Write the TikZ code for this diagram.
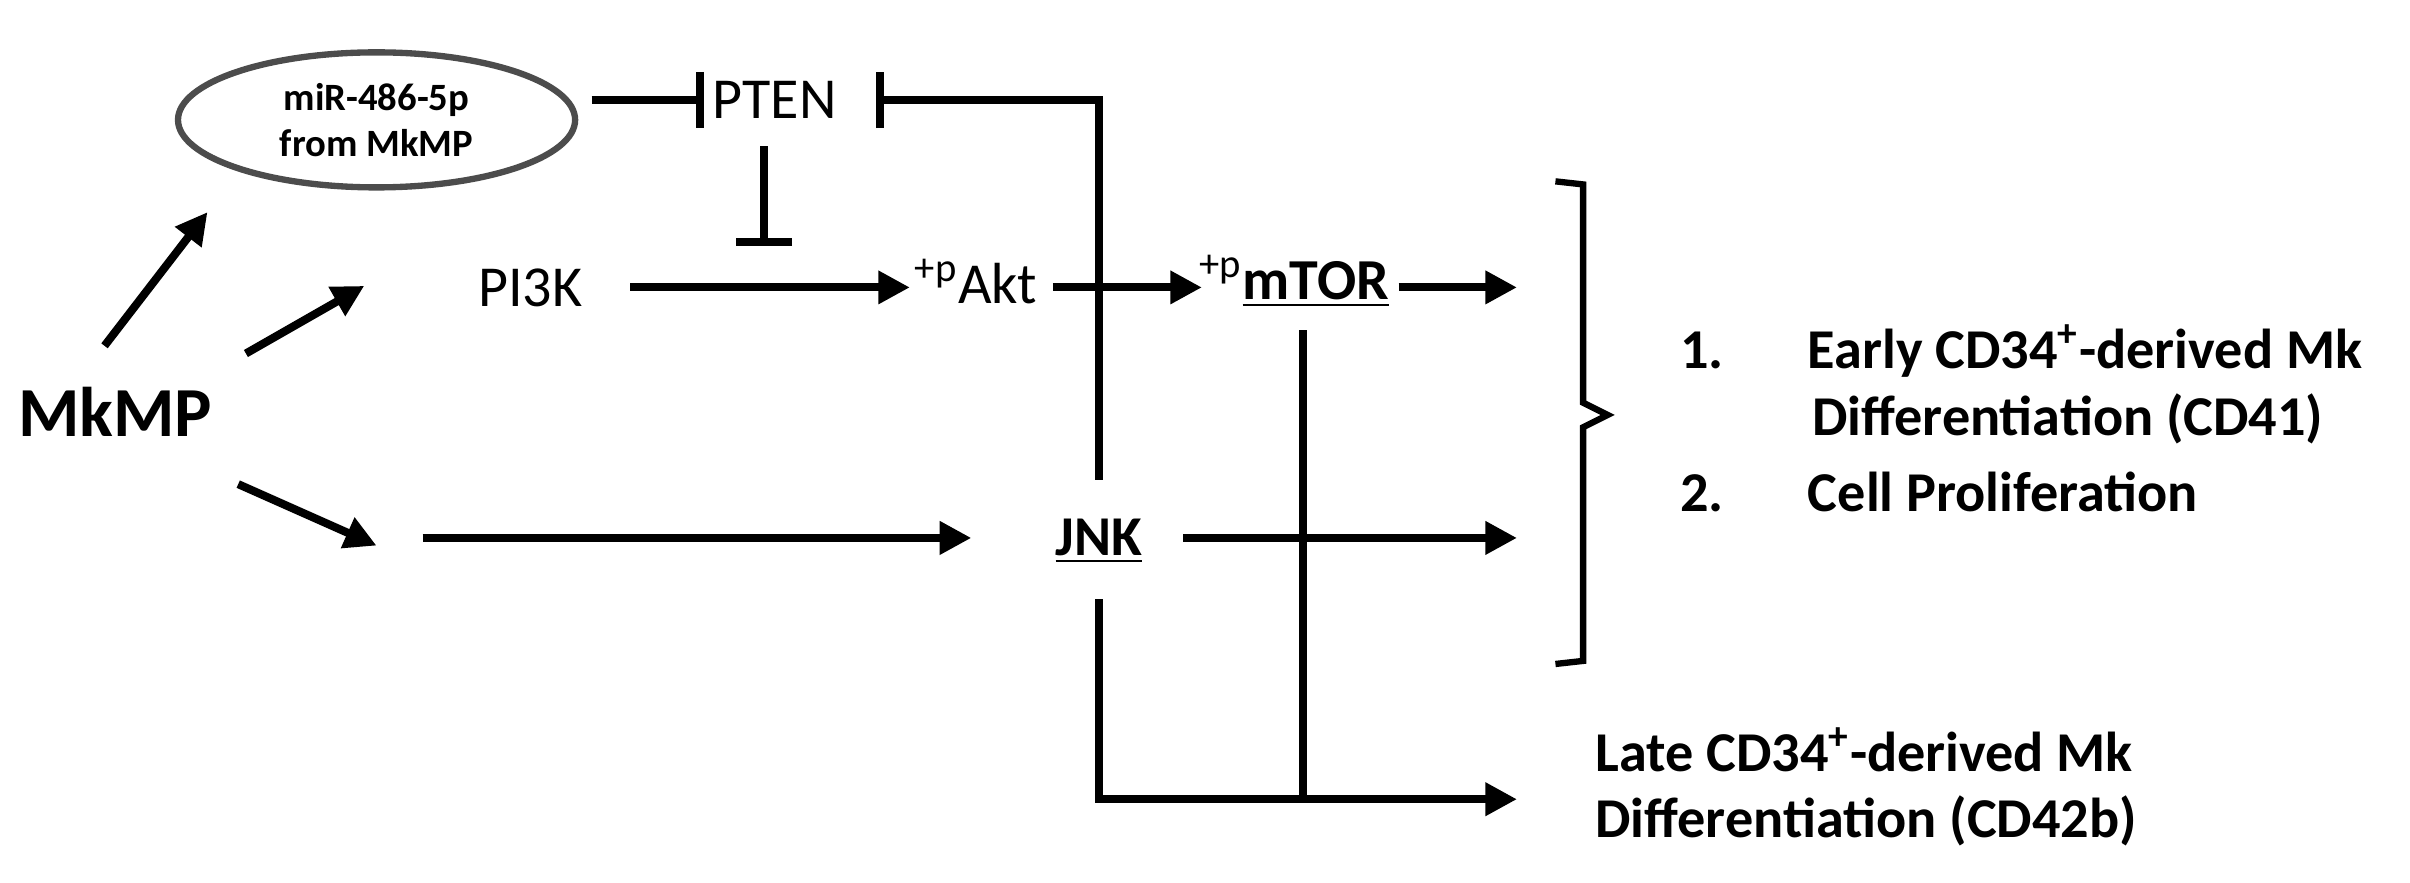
\documentclass[tikz,border=0pt]{standalone}
\usepackage{fontspec}
\setmainfont{Carlito}
\usetikzlibrary{arrows.meta,shapes.geometric}
\begin{document}
\begin{tikzpicture}[x=0.01537cm,y=-0.01537cm,
  ln/.style={line width=2.3pt},
  ar/.style={ln,-{Triangle[length=9pt,width=9pt]}},
  inh/.style={ln,-{Bar[width=16pt]}},
  lbl/.style={font=\fontsize{16.5}{18}\selectfont,inner sep=1pt},
  blbl/.style={font=\fontsize{16}{18}\selectfont\bfseries,inner sep=1pt},
  lst/.style={font=\fontsize{16}{19}\selectfont\bfseries,align=left,anchor=west},
  lst2/.style={font=\fontsize{16}{19}\selectfont\bfseries,align=left,anchor=west}]
\useasboundingbox (0,0) rectangle (1568,574);
\node[ellipse,draw=black!70,line width=1.8pt,minimum width=3.97cm,minimum height=1.35cm,inner sep=0pt,align=center,font=\fontsize{11}{13}\selectfont\bfseries] (mir) at (245,78) {miR-486-5p\\from MkMP};
\node[lbl] (pten) at (504,65) {PTEN};
\node[lbl] (pi3k) at (345,187) {PI3K};
\node[lbl] (akt) at (635,183) {\textsuperscript{+p}Akt};
\node[lbl] (mtor) at (842,183) {\textsuperscript{+p}\underline{\textbf{mTOR}}};
\node[blbl] (jnk) at (715,352) {\underline{JNK}};
\node[font=\fontsize{20}{22}\selectfont\bfseries] (mkmp) at (75,268) {MkMP};
\coordinate (a1) at (68,225); \coordinate (a1e) at (135,138);
\coordinate (a2) at (160,230); \coordinate (a2e) at (237,186);
\coordinate (a3) at (155,315); \coordinate (a3e) at (245,355);
\draw[ar] (a1) -- (a1e);
\draw[ar] (a2) -- (a2e);
\draw[ar] (a3) -- (a3e);
\draw[inh] (385,65) -- (458,65);
\draw[ln] (715,312) -- (715,65) -- (590,65);
\draw[inh] (715,65) -- (570,65);
\draw[inh] (497,95) -- (497,160);
\draw[ar] (410,187) -- (592,187);
\draw[ar] (685,187) -- (782,187);
\draw[ar] (910,187) -- (987,187);
\draw[ar] (275,350) -- (632,350);
\draw[ar] (770,350) -- (987,350);
\draw[ln] (848,215) -- (848,520);
\draw[ar] (715,390) -- (715,520) -- (987,520);
\draw[line width=1.8pt] (1012,118) -- (1030,120) -- (1030,262) -- (1046,270) -- (1030,278) -- (1030,430) -- (1012,432);
\node[lst] (l1) at (1085,250) {1.\hspace{1.5em}Early CD34\textsuperscript{+}-derived Mk\\\hspace{2.35em}Differentiation (CD41)};
\node[lst] (l2) at (1085,320) {2.\hspace{1.5em}Cell Proliferation};
\node[lst2] (l3) at (1030,512) {Late CD34\textsuperscript{+}-derived Mk\\Differentiation (CD42b)};
\end{tikzpicture}
\end{document}
